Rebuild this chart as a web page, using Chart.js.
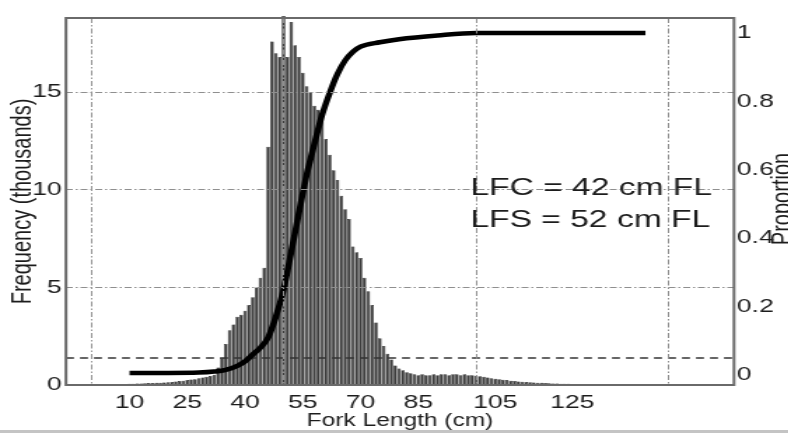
<!DOCTYPE html>
<html>
<head>
<meta charset="utf-8">
<title>Fork length frequency</title>
<script src="https://cdn.jsdelivr.net/npm/chart.js@4.4.1/dist/chart.umd.min.js"></script>
<style>
  html, body { margin: 0; padding: 0; background: #fff; overflow: hidden; }
  #wrap { position: relative; width: 788px; height: 433px; overflow: hidden; }
  #lenChart { position: absolute; left: 0; top: 0; }
  #edge { position: absolute; left: 0; bottom: 0; width: 788px; height: 3px; background: #c4c4c4; }
</style>
</head>
<body>
<div id="wrap">
  <!-- canvas is drawn narrow and stretched sideways -->
  <canvas id="lenChart" width="570" height="433" style="width:798px;height:433px"></canvas>
  <div id="edge"></div>
</div>
<script>
// fork length bins (cm) and catch in each bin (thousands of fish)
const forkLength = [
  3, 4, 5, 6, 7, 8, 9, 10,
  11, 12, 13, 14, 15, 16, 17, 18, 19, 20,
  21, 22, 23, 24, 25, 26, 27, 28, 29, 30,
  31, 32, 33, 34, 35, 36, 37, 38, 39, 40,
  41, 42, 43, 44, 45, 46, 47, 48, 49, 50,
  51, 52, 53, 54, 55, 56, 57, 58, 59, 60,
  61, 62, 63, 64, 65, 66, 67, 68, 69, 70,
  71, 72, 73, 74, 75, 76, 77, 78, 79, 80,
  81, 82, 83, 84, 85, 86, 87, 88, 89, 90,
  91, 92, 93, 94, 95, 96, 97, 98, 99, 100,
  101, 102, 103, 104, 105, 106, 107, 108, 109, 110,
  111, 112, 113, 114, 115, 116, 117, 118, 119, 120,
  121, 122, 123, 124, 125, 126, 127, 128, 129, 130,
  131, 132, 133, 134, 135, 136, 137, 138, 139, 140
];
const frequency = [
  0.02, 0.02, 0.03, 0.03, 0.04, 0.05, 0.05, 0.06,
  0.07, 0.08, 0.08, 0.09, 0.10, 0.10, 0.11, 0.12, 0.13, 0.14,
  0.16, 0.18, 0.20, 0.22, 0.25, 0.28, 0.30, 0.34, 0.38, 0.42,
  0.46, 0.52, 0.90, 1.4, 2.1, 2.8, 3.1, 3.5, 3.6, 3.8,
  4.1, 4.5, 5.0, 5.5, 6.0, 12.2, 17.6, 17.0, 16.8, 18.9,
  16.8, 18.6, 17.4, 16.8, 16.0, 15.3, 15.0, 14.3, 14.1, 13.9,
  12.6, 11.8, 11.0, 10.5, 9.7, 9.0, 8.5, 7.1, 6.8, 6.5,
  5.5, 4.8, 4.1, 3.2, 2.4, 2.0, 1.6, 1.3, 1.0, 0.85,
  0.75, 0.65, 0.60, 0.55, 0.50, 0.55, 0.50, 0.50, 0.55, 0.50,
  0.55, 0.55, 0.50, 0.55, 0.55, 0.50, 0.55, 0.50, 0.50, 0.48,
  0.45, 0.42, 0.38, 0.35, 0.32, 0.30, 0.27, 0.25, 0.22, 0.20,
  0.18, 0.17, 0.15, 0.14, 0.13, 0.12, 0.11, 0.10, 0.09, 0.08,
  0.08, 0.07, 0.06, 0.06, 0.05, 0.05, 0.04, 0.04, 0.03, 0.03,
  0.03, 0.02, 0.02, 0.02, 0.02, 0.02, 0.02, 0.02, 0.02, 0.02
];

// cumulative proportion (ogive) against fork length
const propLength = [10, 20, 28, 32, 35, 38, 40, 42, 44, 46, 48, 50, 52, 54, 56, 58, 60, 62, 64, 66, 68, 70, 75, 80, 90, 100, 120, 144];
const propValue  = [0.006, 0.006, 0.007, 0.01, 0.015, 0.027, 0.04, 0.06, 0.08, 0.11, 0.17, 0.25, 0.36, 0.475, 0.585, 0.675, 0.76, 0.825, 0.88, 0.92, 0.945, 0.96, 0.973, 0.982, 0.993, 1.0, 1.0, 1.0];

const cutoffProp = 0.05;   // dashed reference level
const lfc = 42;            // length at first capture
const lfs = 52;            // length at 50% selection

// axis ticks
const xLabelTicks = [10, 25, 40, 55, 70, 85, 105, 125];
const xGridTicks  = [0, 50, 100, 150];
const yTicks      = [0, 5, 10, 15];
const y2Ticks     = [0, 0.2, 0.4, 0.6, 0.8, 1];

const X_MIN = -6.5, X_MAX = 167;
const FONT = '"Liberation Sans", Arial, Helvetica, sans-serif';
const INK = '#1c1c1c';
const GRID = '#8f8f8f';

Chart.defaults.font.family = FONT;
Chart.defaults.color = INK;

/* ── frame, annotation, right-hand title ── */
const overlayText = {
  id: 'overlayText',
  afterDraw(chart) {
    const { ctx, chartArea: a, scales } = chart;
    ctx.save();
    ctx.strokeStyle = '#6a6a6a';
    ctx.lineWidth = 2;
    ctx.strokeRect(a.left, a.top, a.right - a.left, a.bottom - a.top);

    ctx.fillStyle = INK;
    ctx.font = '24px ' + FONT;
    ctx.textAlign = 'left';
    ctx.textBaseline = 'alphabetic';
    const tx = scales.x.getPixelForValue(98.5);
    ctx.fillText(`LFC = ${lfc} cm FL`, tx, scales.y.getPixelForValue(9.75));
    ctx.fillText(`LFS = ${lfs} cm FL`, tx, scales.y.getPixelForValue(8.1));

    ctx.translate(565, 199);
    ctx.rotate(-Math.PI / 2);
    ctx.font = '20px ' + FONT;
    ctx.textAlign = 'center';
    ctx.fillText('Proportion', 0, 0);
    ctx.restore();
  }
};

const ctx = document.getElementById('lenChart');
new Chart(ctx, {
  type: 'bar',
  data: {
    datasets: [
      {
        type: 'line',
        data: propLength.map((x, i) => ({ x, y: propValue[i] })),
        yAxisID: 'y2',
        borderColor: '#000',
        borderWidth: 4.5,
        pointRadius: 0,
        cubicInterpolationMode: 'monotone',
        order: 0
      },
      {
        type: 'line',
        data: [{ x: X_MIN, y: cutoffProp }, { x: X_MAX, y: cutoffProp }],
        yAxisID: 'y2',
        borderColor: '#333',
        borderWidth: 1.5,
        borderDash: [5.7, 4.3],
        pointRadius: 0,
        order: 1
      },
      {
        type: 'bar',
        data: forkLength.map((x, i) => ({ x, y: frequency[i] })),
        yAxisID: 'y',
        backgroundColor: '#3d3d3d',
        borderColor: '#0a0a0a',
        borderWidth: 0.5,
        barPercentage: 1,
        categoryPercentage: 0.95,
        clip: false,
        order: 2
      }
    ]
  },
  options: {
    responsive: false,
    devicePixelRatio: 1,
    animation: false,
    events: [],
    layout: { padding: { top: 18, left: 0, right: 0, bottom: 0 }, autoPadding: false },
    plugins: { legend: { display: false }, tooltip: { enabled: false } },
    scales: {
      x: {
        type: 'linear',
        min: X_MIN, max: X_MAX,
        offset: false,
        afterBuildTicks: s => {
          s.ticks = [...new Set([...xGridTicks, ...xLabelTicks])].sort((a, b) => a - b).map(v => ({ value: v }));
        },
        afterFit: s => { s.height = 48; },
        grid: {
          offset: false,
          drawTicks: false,
          z: 1,
          lineWidth: 1,
          color: c => xGridTicks.includes(c.tick && c.tick.value) ? GRID : 'rgba(0,0,0,0)'
        },
        border: { display: false, dash: [5, 2, 1.5, 2] },
        ticks: {
          autoSkip: false, maxRotation: 0, padding: 6,
          font: { size: 19 },
          callback: v => xLabelTicks.includes(v) ? String(v) : ''
        },
        title: {
          display: true, text: 'Fork Length (cm)',
          font: { size: 17.5, lineHeight: 1 },
          padding: { top: 0, bottom: 3.5 }
        }
      },
      y: {
        position: 'left',
        min: 0, max: 18.8,
        afterBuildTicks: s => { s.ticks = yTicks.map(v => ({ value: v })); },
        afterFit: s => { s.width = 47.14; },
        grid: {
          drawTicks: false,
          z: 1,
          color: c => c.tick && c.tick.value > 0 ? GRID : 'rgba(0,0,0,0)'
        },
        border: { display: false, dash: [5, 2, 1.5, 2] },
        ticks: { padding: 3, font: { size: 19 } },
        title: {
          display: true, text: 'Frequency (thousands)',
          font: { size: 20, lineHeight: 1 },
          padding: { top: 6.4, bottom: 0 }
        }
      },
      y2: {
        position: 'right',
        min: -0.0292, max: 1.0439,
        afterBuildTicks: s => { s.ticks = y2Ticks.map(v => ({ value: v })); },
        afterFit: s => { s.width = 45.71; },
        grid: { drawOnChartArea: false, drawTicks: false },
        border: { display: false },
        ticks: {
          padding: 2, font: { size: 19 },
          callback: v => String(+v.toFixed(1))
        }
      }
    }
  },
  plugins: [overlayText]
});
</script>
</body>
</html>
